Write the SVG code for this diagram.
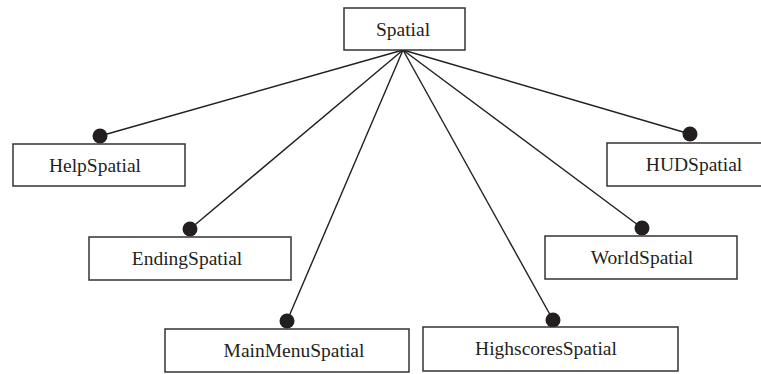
<svg xmlns="http://www.w3.org/2000/svg" width="761" height="374" viewBox="0 0 761 374">
  <style>
    .box { fill: #ffffff; stroke: #333333; stroke-width: 1.5; }
    .lbl { font-family: "Liberation Serif", "Times New Roman", serif; font-size: 19.5px; fill: #231f20; text-anchor: middle; dominant-baseline: central; }
    .edge { stroke: #231f20; stroke-width: 1.4; fill: none; }
    .dot { fill: #231f20; }
  </style>
  <rect width="761" height="374" fill="#ffffff"/>

  <!-- connectors: one line from the parent to each child, ending in a filled dot -->
  <g id="connectors">
    <line class="edge" x1="403" y1="50" x2="100" y2="136"/>
    <line class="edge" x1="403" y1="50" x2="190" y2="229"/>
    <line class="edge" x1="403" y1="50" x2="287" y2="321"/>
    <line class="edge" x1="403" y1="50" x2="553" y2="320"/>
    <line class="edge" x1="403" y1="50" x2="642" y2="228"/>
    <line class="edge" x1="403" y1="50" x2="690" y2="134"/>
    <circle class="dot" cx="100" cy="136" r="7.5"/>
    <circle class="dot" cx="190" cy="229" r="7.5"/>
    <circle class="dot" cx="287" cy="321" r="7.5"/>
    <circle class="dot" cx="553" cy="320" r="7.5"/>
    <circle class="dot" cx="642" cy="228" r="7.5"/>
    <circle class="dot" cx="690" cy="134" r="7.5"/>
  </g>

  <g id="spatial">
    <rect class="box" x="344" y="8" width="121" height="42"/>
    <text class="lbl" x="403" y="29">Spatial</text>
  </g>
  <g id="help-spatial">
    <rect class="box" x="13" y="144" width="172" height="42"/>
    <text class="lbl" x="95" y="165">HelpSpatial</text>
  </g>
  <g id="hud-spatial">
    <rect class="box" x="607" y="143" width="160" height="43"/>
    <text class="lbl" x="694" y="164.5">HUDSpatial</text>
  </g>
  <g id="ending-spatial">
    <rect class="box" x="89" y="237" width="202" height="43"/>
    <text class="lbl" x="187" y="258.5">EndingSpatial</text>
  </g>
  <g id="world-spatial">
    <rect class="box" x="545" y="236" width="192" height="43"/>
    <text class="lbl" x="642" y="257.5">WorldSpatial</text>
  </g>
  <g id="mainmenu-spatial">
    <rect class="box" x="165" y="329" width="244" height="43"/>
    <text class="lbl" x="294" y="350.5">MainMenuSpatial</text>
  </g>
  <g id="highscores-spatial">
    <rect class="box" x="423" y="327" width="255" height="44"/>
    <text class="lbl" x="546" y="348.5">HighscoresSpatial</text>
  </g>
</svg>
